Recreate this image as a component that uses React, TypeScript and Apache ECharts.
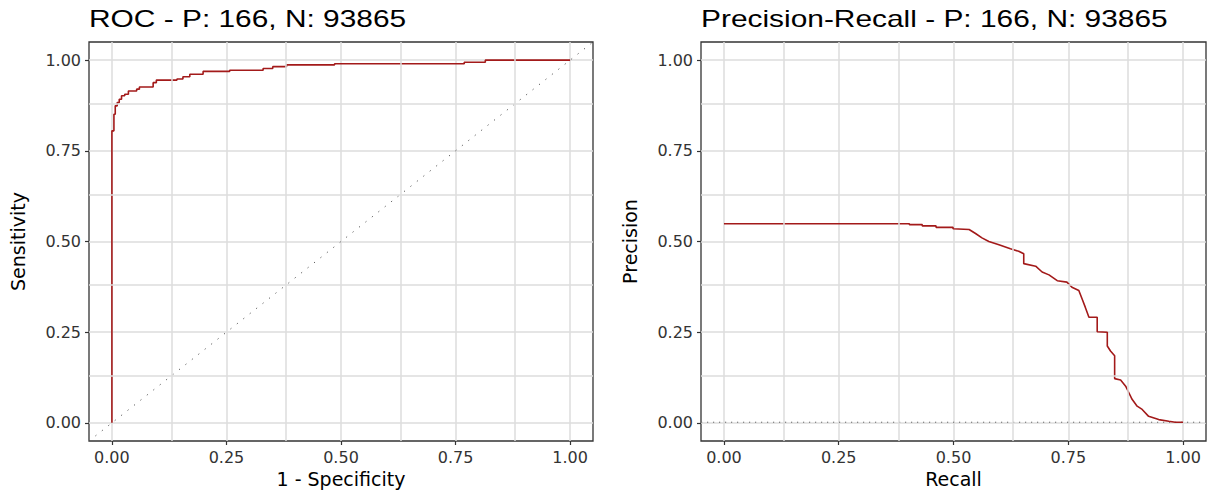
import React, { useEffect, useRef } from "react";
import * as echarts from "echarts";

const TITLE_ROC = "ROC - P: 166, N: 93865";
const TITLE_PR = "Precision-Recall - P: 166, N: 93865";
const POSITIVES = 166;
const NEGATIVES = 93865;

const majorTicks = [0, 0.25, 0.5, 0.75, 1.0];
const minorGrid = [0.125, 0.375, 0.625, 0.875];

// ROC: [1 - specificity, sensitivity] at each jump (step drawn horizontally first)
const rocFpr = [0, 0, 0.0044, 0.0073, 0.0116, 0.016, 0.021, 0.028, 0.036, 0.054, 0.06, 0.09, 0.097, 0.142, 0.155, 0.17, 0.199, 0.257, 0.33, 0.351, 0.381, 0.486, 0.769, 0.815, 1.0];
const rocTpr = [0, 0.805, 0.851, 0.874, 0.883, 0.892, 0.902, 0.906, 0.915, 0.92, 0.926, 0.938, 0.945, 0.948, 0.954, 0.961, 0.969, 0.972, 0.977, 0.982, 0.987, 0.99, 0.994, 1.0, 1.0];

// Precision-Recall points
const prRecall = [0, 0.404, 0.404, 0.432, 0.432, 0.462, 0.462, 0.499, 0.499, 0.534, 0.548, 0.562, 0.577, 0.599, 0.624, 0.642, 0.653, 0.653, 0.679, 0.693, 0.708, 0.726, 0.747, 0.758, 0.773, 0.78, 0.787, 0.795, 0.813, 0.813, 0.835, 0.835, 0.842, 0.851, 0.851, 0.864, 0.875, 0.882, 0.889, 0.9, 0.911, 0.925, 0.947, 0.969, 0.983, 1.0];
const prPrecision = [0.549, 0.549, 0.5465, 0.5465, 0.543, 0.543, 0.539, 0.539, 0.535, 0.533, 0.522, 0.51, 0.5, 0.491, 0.48, 0.473, 0.466, 0.439, 0.432, 0.416, 0.408, 0.392, 0.388, 0.374, 0.365, 0.342, 0.319, 0.291, 0.291, 0.251, 0.25, 0.212, 0.198, 0.185, 0.122, 0.118, 0.101, 0.083, 0.065, 0.046, 0.037, 0.018, 0.009, 0.0045, 0.0018, 0.0018];

const FONT = "'DejaVu Sans', 'Liberation Sans', Arial, sans-serif";
const TITLE_FONT = "'Liberation Sans', Arial, sans-serif";
const CURVE = "#a31a1a";
const GRID_COLOR = "#dcdcdc";

function isMajor(v: number) {
  const q = v * 4;
  return v >= -1e-9 && v <= 1 + 1e-9 && Math.abs(q - Math.round(q)) < 1e-6;
}

function axis(gridIndex: number, name: string, isY: boolean) {
  return {
    type: "value",
    gridIndex,
    min: -0.05,
    max: 1.05,
    interval: 0.025,
    name,
    nameLocation: "middle",
    nameGap: isY ? 62 : 28,
    nameRotate: isY ? 90 : 0,
    nameMoveOverlap: false,
    nameTextStyle: { fontSize: 19, color: "#000", fontFamily: FONT },
    axisLine: { show: false, onZero: false },
    axisTick: {
      show: true,
      customValues: majorTicks,
      length: 4,
      lineStyle: { color: "#333", width: 1.2 },
    },
    axisLabel: {
      customValues: majorTicks,
      fontSize: 16,
      color: "#333",
      fontFamily: FONT,
      margin: 8,
      formatter: (v: number) => (isMajor(v) ? v.toFixed(2) : ""),
    },
    splitLine: {
      show: true,
      lineStyle: { width: 1.5, color: GRID_COLOR },
    },
  };
}

function minorMarkLine() {
  return {
    silent: true,
    symbol: ["none", "none"],
    label: { show: false },
    emphasis: { disabled: true },
    lineStyle: { color: GRID_COLOR, type: "solid", width: 1.5 },
    data: [
      ...minorGrid.map((v) => ({ xAxis: v })),
      ...minorGrid.map((v) => ({ yAxis: v })),
    ],
  };
}

export default function App() {
  const ref = useRef<HTMLDivElement>(null);
  useEffect(() => {
    if (!ref.current) return;
    const chart = echarts.init(ref.current, undefined, { renderer: "svg" });
    const baseline = POSITIVES / (POSITIVES + NEGATIVES);
    const roc = rocFpr.map((x, i) => [x, rocTpr[i]]);
    const pr = prRecall.map((x, i) => [x, prPrecision[i]]);
    chart.setOption({
      animation: false,
      backgroundColor: "#fff",
      textStyle: { fontFamily: FONT },
      graphic: [
        {
          type: "text",
          x: 89,
          y: 19,
          scaleX: 1.3,
          silent: true,
          style: { text: TITLE_ROC, fill: "#000", font: `23px ${TITLE_FONT}`, textVerticalAlign: "middle", textAlign: "left" },
        },
        {
          type: "text",
          x: 701,
          y: 19,
          scaleX: 1.3,
          silent: true,
          style: { text: TITLE_PR, fill: "#000", font: `23px ${TITLE_FONT}`, textVerticalAlign: "middle", textAlign: "left" },
        },
      ],
      grid: [
        { left: 89, top: 42, width: 504, height: 399, outerBoundsMode: "none", containLabel: false, show: true, borderColor: "#333", borderWidth: 1.3, backgroundColor: "#fff" },
        { left: 701, top: 42, width: 505, height: 399, outerBoundsMode: "none", containLabel: false, show: true, borderColor: "#333", borderWidth: 1.3, backgroundColor: "#fff" },
      ],
      xAxis: [axis(0, "1 - Specificity", false), axis(1, "Recall", false)],
      yAxis: [axis(0, "Sensitivity", true), axis(1, "Precision", true)],
      series: [
        {
          type: "line",
          xAxisIndex: 0,
          yAxisIndex: 0,
          data: [[-0.05, -0.05], [1.05, 1.05]],
          showSymbol: false,
          silent: true,
          lineStyle: { color: "#555", width: 1, type: [1.2, 7] },
          markLine: minorMarkLine(),
        },
        {
          type: "line",
          xAxisIndex: 0,
          yAxisIndex: 0,
          data: roc,
          step: "end",
          showSymbol: false,
          lineStyle: { color: CURVE, width: 1.6 },
        },
        {
          type: "line",
          xAxisIndex: 1,
          yAxisIndex: 1,
          data: [[-0.05, baseline], [1.05, baseline]],
          showSymbol: false,
          silent: true,
          lineStyle: { color: "#666", width: 1, type: [1.2, 4.8] },
          markLine: minorMarkLine(),
        },
        {
          type: "line",
          xAxisIndex: 1,
          yAxisIndex: 1,
          data: pr,
          showSymbol: false,
          lineStyle: { color: CURVE, width: 1.6 },
        },
      ],
    });
    return () => chart.dispose();
  }, []);
  return <div ref={ref} style={{ position: "fixed", left: 0, top: 0, width: 1208, height: 495 }} />;
}
